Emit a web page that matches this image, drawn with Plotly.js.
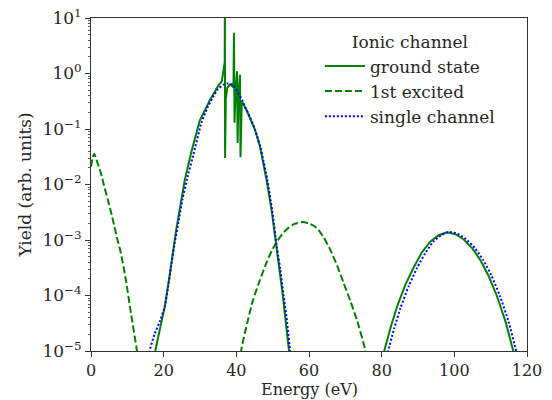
<!DOCTYPE html>
<html>
<head>
<meta charset="utf-8">
<script src="https://cdn.plot.ly/plotly-3.0.1.min.js"></script>
<style>html,body{margin:0;padding:0;background:#fff;}</style>
</head>
<body>
<div id="chart" style="width:552px;height:400px;"></div>
<script>
// ---- Data ----
var groundE = [17.5, 17.7, 18.5, 19.5, 20.3, 21.5, 22.5, 23.5, 24.4, 25.8, 27.6, 29.9, 32.7, 35.0, 36.0, 36.5, 36.8, 36.85, 36.9, 37.1, 37.5, 38.2, 38.8, 39.2, 39.35, 39.5, 39.8, 40.2, 40.35, 40.6, 41.0, 41.15, 41.5, 42.8, 45.1, 46.5, 48.3, 49.7, 51.1, 52.8, 54.5, 54.7,
  null,
  80.5, 80.7, 82.5, 84.2, 86.5, 88.8, 91.0, 93.4, 95.7, 98.0, 100.3, 102.6, 105.0, 107.2, 109.5, 111.8, 114.2, 116.4, 116.6];
var groundY = [8e-6, 1.0e-5, 1.8e-5, 3.5e-5, 6.3e-5, 2.0e-4, 6.0e-4, 1.6e-3, 3.5e-3, 1.2e-2, 3.8e-2, 0.14, 0.33, 0.6, 0.72, 1.1, 1.6, 30, 0.03, 0.35, 0.55, 0.63, 0.60, 0.56, 5.4, 0.13, 0.5, 1.1, 0.056, 0.4, 0.95, 0.031, 0.32, 0.22, 0.098, 0.049, 0.0123, 3.5e-3, 7.6e-4, 1.0e-4, 1.0e-5, 8e-6,
  null,
  8e-6, 1.0e-5, 2.7e-5, 6.2e-5, 1.55e-4, 3.2e-4, 5.9e-4, 9.4e-4, 1.22e-3, 1.38e-3, 1.27e-3, 1.02e-3, 7.0e-4, 4.3e-4, 2.2e-4, 9.5e-5, 3.2e-5, 1.0e-5, 8e-6];

var excitedE = [0, 0.4, 0.9, 1.5, 2.7, 3.6, 4.6, 5.5, 6.4, 7.3, 8.2, 9.6, 11.0, 12.6, 12.8,
  null,
  41.3, 41.4, 43.0, 44.6, 46.5, 48.3, 49.7, 51.1, 53.8, 56.0, 58.4, 60.3, 62.1, 64.0, 65.8, 67.7, 69.5, 71.4, 73.2, 75.4, 75.6];
var excitedY = [0.021, 0.029, 0.036, 0.028, 0.0162, 9.5e-3, 5.4e-3, 3.2e-3, 1.8e-3, 1.0e-3, 5.9e-4, 1.9e-4, 4.8e-5, 1.05e-5, 8e-6,
  null,
  9e-6, 1.1e-5, 3.2e-5, 8.3e-5, 1.9e-4, 3.9e-4, 6.3e-4, 9.3e-4, 1.55e-3, 1.95e-3, 2.1e-3, 1.95e-3, 1.66e-3, 1.12e-3, 6.8e-4, 3.5e-4, 1.7e-4, 7.9e-5, 3.6e-5, 1.1e-5, 8.9e-6];

var singleE = [15.9, 16.1, 17.5, 19.0, 20.3, 21.2, 22.0, 23.0, 24.0, 25.2, 26.4, 28.2, 30.4, 32.0, 33.5, 35.0, 36.5, 37.7, 39.0, 40.5, 41.7, 42.8, 44.0, 45.1, 46.5, 47.5, 48.5, 49.8, 51.1, 52.1, 53.0, 54.0, 54.8, 55.0,
  null,
  81.6, 81.8, 83.5, 85.2, 87.5, 89.7, 92.0, 94.2, 96.4, 98.6, 100.9, 103.2, 105.6, 107.9, 110.2, 112.5, 114.9, 117.0, 117.2];
var singleY = [8e-6, 1e-5, 2e-5, 3.5e-5, 6.3e-5, 1.4e-4, 3.2e-4, 8.5e-4, 2.0e-3, 5.5e-3, 1.23e-2, 3.5e-2, 0.13, 0.24, 0.37, 0.53, 0.63, 0.66, 0.63, 0.45, 0.32, 0.22, 0.15, 0.1, 0.05, 0.026, 0.0123, 3.6e-3, 7.9e-4, 2.9e-4, 1.0e-4, 3.2e-5, 1e-5, 8e-6,
  null,
  8e-6, 1.0e-5, 2.6e-5, 6.0e-5, 1.5e-4, 3.1e-4, 5.8e-4, 9.3e-4, 1.22e-3, 1.4e-3, 1.29e-3, 1.04e-3, 7.2e-4, 4.4e-4, 2.3e-4, 1.0e-4, 3.4e-5, 1.0e-5, 8e-6];

var seriesNames = ['ground state', '1st excited', 'single channel'];
var legendTitle = 'Ionic channel';
var xTickVals = [0, 20, 40, 60, 80, 100, 120];
var yTickVals = [1e-5, 1e-4, 1e-3, 1e-2, 1e-1, 1e0, 1e1];
var yTickText = ['10<sup>\u22125</sup>', '10<sup>\u22124</sup>', '10<sup>\u22123</sup>', '10<sup>\u22122</sup>', '10<sup>\u22121</sup>', '10<sup>0</sup>', '10<sup>1</sup>'];
var xTitle = 'Energy (eV)';
var yTitle = 'Yield (arb. units)';

// minor tick positions (2..9 per decade)
var minorVals = [];
for (var d = -5; d < 1; d++) {
  for (var m = 2; m <= 9; m++) minorVals.push(m * Math.pow(10, d));
}

var traces = [
  {x: groundE, y: groundY, name: seriesNames[0], legendgroup: 'g1', mode: 'lines', connectgaps: false,
   line: {color: '#008000', width: 2}},
  {x: excitedE, y: excitedY, name: seriesNames[1], legendgroup: 'g2', mode: 'lines', connectgaps: false,
   line: {color: '#008000', width: 2, dash: '7px,3px', shape: 'spline', smoothing: 0.6}},
  {x: singleE, y: singleY, name: seriesNames[2], legendgroup: 'g3', mode: 'lines', connectgaps: false,
   line: {color: '#0000ff', width: 2, dash: '2px,2px', shape: 'spline', smoothing: 0.6}}
];

var axisColor = '#333333';
var fs = 17;
var layout = {
  width: 552, height: 400,
  margin: {l: 91, r: 25, t: 18, b: 49, pad: 0},
  paper_bgcolor: '#ffffff', plot_bgcolor: '#ffffff',
  font: {family: 'DejaVu Serif', size: fs, color: '#262626'},
  showlegend: true,
  xaxis: {
    range: [0, 120], tickmode: 'array', tickvals: xTickVals,
    ticks: 'outside', ticklen: 5, tickwidth: 1, tickcolor: axisColor,
    linecolor: axisColor, linewidth: 1, mirror: true,
    showgrid: false, zeroline: false,
    tickfont: {size: 16}
  },
  yaxis: {
    type: 'log', range: [-5, 1], tickmode: 'array', tickvals: yTickVals, ticktext: yTickText,
    ticks: 'outside', ticklen: 5, tickwidth: 1, tickcolor: axisColor,
    minor: {tickmode: 'array', tickvals: minorVals, ticks: 'outside', ticklen: 2.5, tickwidth: 0.8, tickcolor: axisColor, showgrid: false},
    linecolor: axisColor, linewidth: 1, mirror: true,
    showgrid: false, zeroline: false,
    tickfont: {size: fs},
    title: {text: yTitle, font: {size: fs}, standoff: 6}
  },
  annotations: [{
    text: xTitle, xref: 'paper', yref: 'paper', x: 0.5, y: -0.115,
    xanchor: 'center', yanchor: 'middle', showarrow: false, font: {size: 16}
  }],
  legend: {
    x: 0.525, y: 0.975, xanchor: 'left', yanchor: 'top',
    bgcolor: 'rgba(0,0,0,0)', borderwidth: 0,
    font: {size: fs, color: '#262626'},
    title: {text: legendTitle, side: 'top center', font: {size: fs}},
    tracegroupgap: 0, itemwidth: 40
  }
};

Plotly.newPlot('chart', traces, layout, {displayModeBar: false, staticPlot: true});
</script>
</body>
</html>
